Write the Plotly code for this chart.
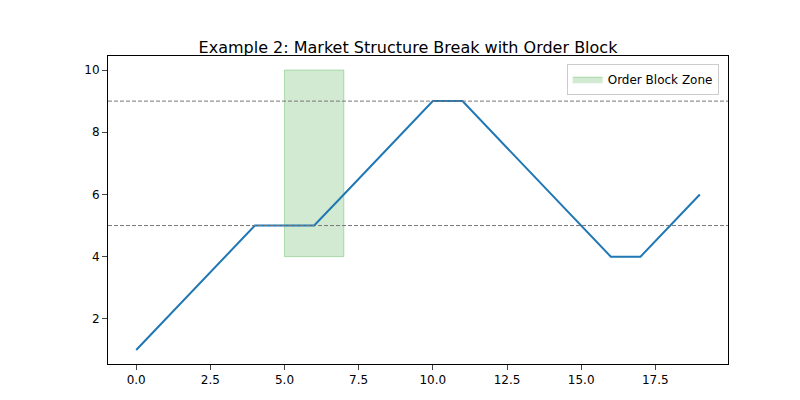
import plotly.graph_objects as go

x = list(range(20))
y = [1, 2, 3, 4, 5, 5, 5, 6, 7, 8, 9, 9, 8, 7, 6, 5, 4, 4, 5, 6]
zone_x = [5, 7]
zone_y = [4, 10]
levels = [9, 5]

fig = go.Figure()
fig.add_trace(go.Scatter(
    x=[zone_x[0], zone_x[1], zone_x[1], zone_x[0], zone_x[0]],
    y=[zone_y[0], zone_y[0], zone_y[1], zone_y[1], zone_y[0]],
    fill="toself", fillcolor="rgba(44,160,44,0.22)",
    line=dict(color="rgba(44,160,44,0.3)", width=1),
    mode="lines", name="Order Block Zone", showlegend=True))
fig.add_trace(go.Scatter(x=x, y=y, mode="lines", line=dict(color="#1f77b4", width=2),
                         showlegend=False))
for lv in levels:
    fig.add_hline(y=lv, line=dict(color="#777777", dash="4px,2px", width=1))

fig.update_layout(
    width=800, height=400, plot_bgcolor="white", paper_bgcolor="white",
    font=dict(family="DejaVu Sans", size=12, color="black"),
    title=dict(text="Example 2: Market Structure Break with Order Block",
               x=0.5, xanchor="center", y=0.915, font=dict(size=16)),
    margin=dict(l=100, r=80, t=48, b=44, pad=0),
    legend=dict(x=0.985, y=0.975, xanchor="right", yanchor="top",
                bordercolor="#cccccc", borderwidth=1, bgcolor="white"),
)
fig.update_xaxes(range=[-0.95, 19.95], tickvals=[0, 2.5, 5, 7.5, 10, 12.5, 15, 17.5],
                 ticktext=["0.0", "2.5", "5.0", "7.5", "10.0", "12.5", "15.0", "17.5"],
                 showgrid=False, zeroline=False, showline=True, mirror=True, automargin=False,
                 linecolor="black", ticks="outside")
fig.update_yaxes(range=[0.55, 10.45], tickvals=[2, 4, 6, 8, 10], automargin=False,
                 showgrid=False, zeroline=False, showline=True, mirror=True,
                 linecolor="black", ticks="outside")
fig.write_html("out.html")
